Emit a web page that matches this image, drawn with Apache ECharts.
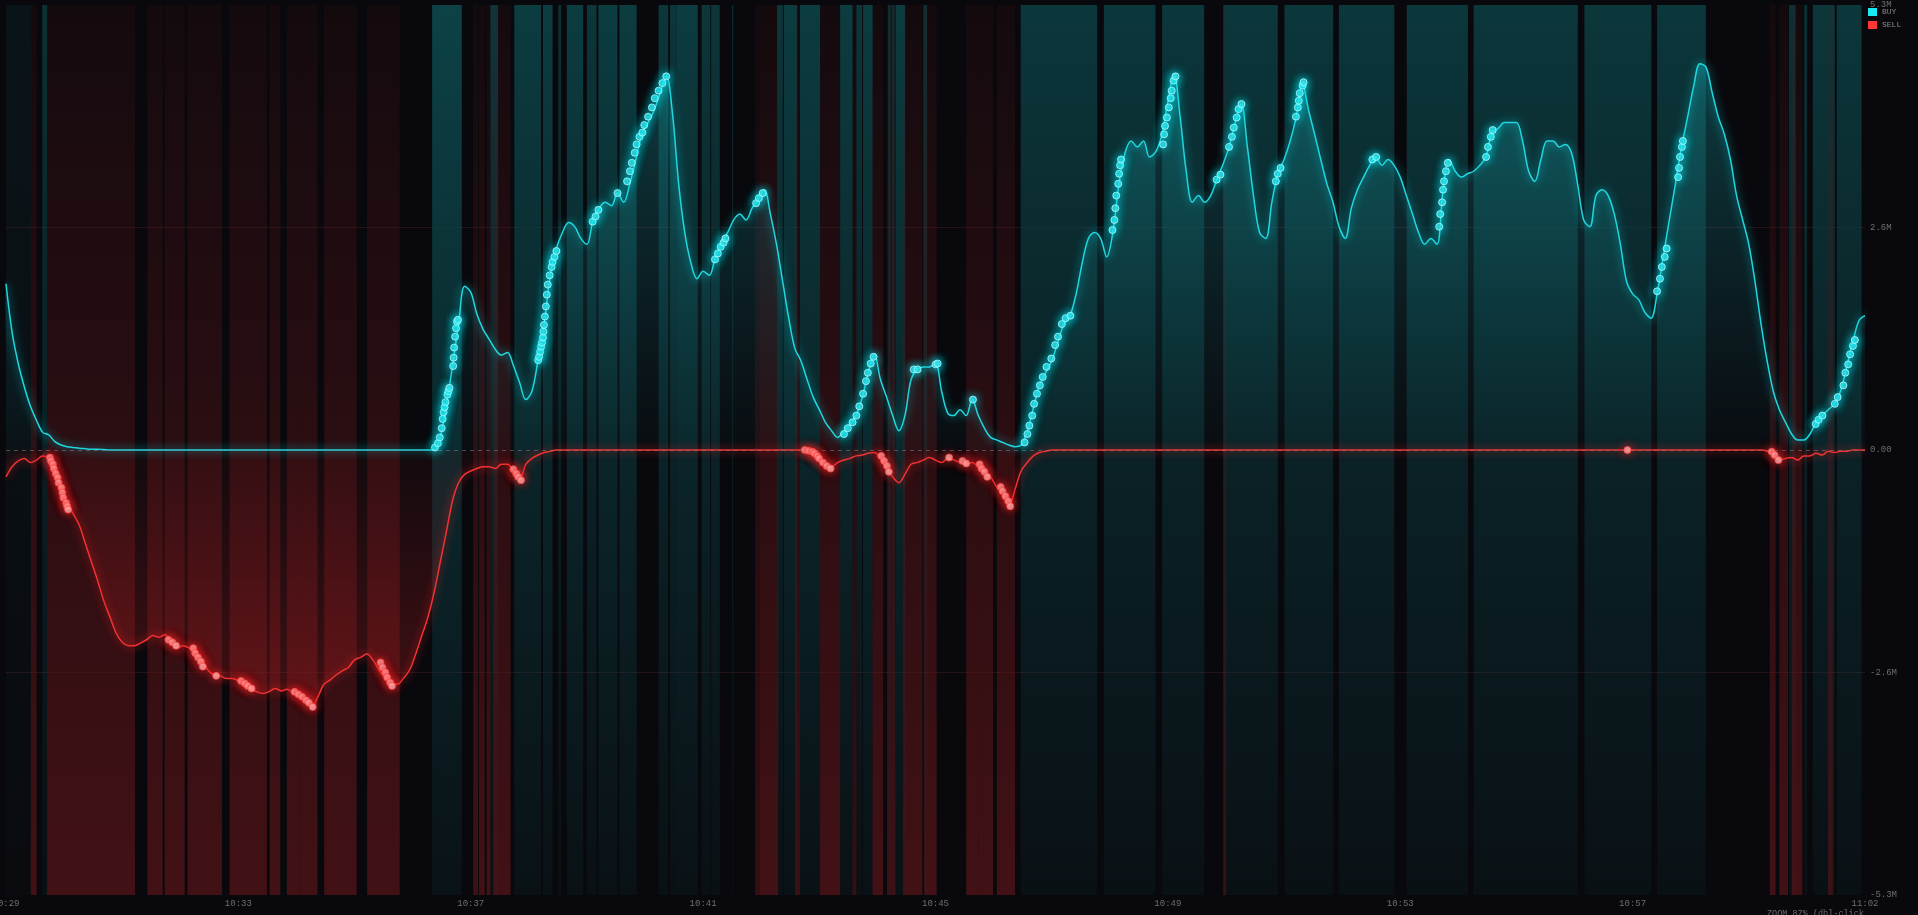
<!DOCTYPE html>
<html><head><meta charset="utf-8">
<script src="https://cdn.jsdelivr.net/npm/echarts@6/dist/echarts.min.js"></script>
<style>html,body{margin:0;padding:0;background:#09090d;overflow:hidden}#c{width:1918px;height:915px}</style>
</head><body><div id="c"></div>
<script>
// ---- data (values in millions) ----
const SAMPLE_SEC = 6.4;            // seconds between samples, from 10:29:30
const xTickLabels = ['10:29','10:33','10:37','10:41','10:45','10:49','10:53','10:57','11:02'];
const yTickMax = 5.3;

const buyFlow = [
1.98,1.40,1.03,0.75,0.52,0.35,0.21,0.18,0.10,0.06,
0.04,0.03,0.02,0.015,0.01,0.01,0.005,0,0,0,
0,0,0,0,0,0,0,0,0,0,
0,0,0,0,0,0,0,0,0,0,
0,0,0,0,0,0,0,0,0,0,
0,0,0,0,0,0,0,0,0,0,
0,0,0,0,0,0,0,0,0,0,
0,0.15,0.52,1.0,1.5,1.95,1.88,1.62,1.44,1.32,
1.20,1.13,1.16,1.00,0.80,0.60,0.70,1.07,1.49,2.08,
2.40,2.59,2.71,2.66,2.52,2.45,2.74,2.88,2.95,2.91,
3.06,2.95,3.17,3.46,3.76,3.90,4.05,4.26,4.45,4.0,
3.17,2.59,2.23,2.04,2.13,2.08,2.30,2.48,2.59,2.74,
2.81,2.74,2.88,3.00,3.10,2.81,2.45,2.01,1.57,1.21,
1.06,0.84,0.63,0.48,0.33,0.23,0.15,0.22,0.31,0.41,
0.62,0.92,1.14,0.84,0.63,0.41,0.23,0.41,0.84,0.96,
0.99,0.99,1.03,0.70,0.44,0.41,0.48,0.41,0.60,0.41,
0.26,0.15,0.12,0.09,0.06,0.04,0.06,0.22,0.50,0.77,
0.92,1.06,1.28,1.50,1.60,1.86,2.23,2.52,2.59,2.52,
2.30,2.59,3.17,3.54,3.68,3.61,3.68,3.49,3.55,3.75,
4.15,4.48,3.97,3.32,2.95,3.03,2.95,3.03,3.22,3.40,
3.61,3.90,4.12,3.61,3.03,2.59,2.52,2.95,3.29,3.46,
3.68,3.97,4.37,4.05,3.76,3.46,3.17,2.95,2.66,2.52,
2.88,3.10,3.25,3.39,3.49,3.39,3.46,3.39,3.25,3.03,
2.81,2.59,2.45,2.52,2.45,3.10,3.46,3.32,3.25,3.29,
3.32,3.39,3.49,3.78,3.83,3.90,3.90,3.90,3.68,3.32,
3.20,3.46,3.68,3.68,3.61,3.64,3.54,3.17,2.74,2.66,
3.03,3.10,3.03,2.81,2.45,2.01,1.86,1.79,1.64,1.57,
1.86,2.30,2.74,3.17,3.61,3.97,4.34,4.60,4.56,4.26,
3.97,3.76,3.46,3.03,2.74,2.45,2.01,1.50,1.06,0.70,
0.48,0.33,0.19,0.12,0.12,0.19,0.33,0.41,0.48,0.55,
0.70,0.99,1.28,1.54,1.60
];

const sellFlow = [
-0.32,-0.20,-0.13,-0.10,-0.15,-0.12,-0.07,-0.10,-0.25,-0.44,
-0.64,-0.76,-0.90,-1.12,-1.34,-1.56,-1.80,-1.99,-2.18,-2.29,
-2.33,-2.33,-2.30,-2.26,-2.21,-2.23,-2.20,-2.29,-2.36,-2.33,
-2.36,-2.40,-2.50,-2.62,-2.68,-2.69,-2.72,-2.72,-2.75,-2.79,
-2.84,-2.88,-2.90,-2.88,-2.84,-2.87,-2.85,-2.90,-2.94,-2.98,
-3.06,-2.94,-2.79,-2.74,-2.68,-2.63,-2.59,-2.50,-2.47,-2.43,
-2.50,-2.62,-2.72,-2.79,-2.79,-2.72,-2.62,-2.43,-2.21,-1.99,
-1.70,-1.34,-0.98,-0.61,-0.39,-0.29,-0.25,-0.22,-0.20,-0.20,
-0.22,-0.17,-0.17,-0.25,-0.35,-0.17,-0.10,-0.06,-0.03,-0.015,
0,0,0,0,0,0,0,0,0,0,
0,0,0,0,0,0,0,0,0,0,
0,0,0,0,0,0,0,0,0,0,
0,0,0,0,0,0,0,0,0,0,
0,-0.015,-0.06,-0.12,-0.19,-0.20,-0.15,-0.12,-0.10,-0.07,
-0.06,-0.04,-0.03,-0.10,-0.22,-0.32,-0.39,-0.29,-0.17,-0.15,
-0.12,-0.09,-0.12,-0.15,-0.10,-0.12,-0.15,-0.17,-0.15,-0.20,
-0.25,-0.32,-0.44,-0.54,-0.67,-0.47,-0.25,-0.15,-0.07,-0.03,
-0.015,0,0,0,0,0,0,0,0,0,
0,0,0,0,0,0,0,0,0,0,
0,0,0,0,0,0,0,0,0,0,
0,0,0,0,0,0,0,0,0,0,
0,0,0,0,0,0,0,0,0,0,
0,0,0,0,0,0,0,0,0,0,
0,0,0,0,0,0,0,0,0,0,
0,0,0,0,0,0,0,0,0,0,
0,0,0,0,0,0,0,0,0,0,
0,0,0,0,0,0,0,0,0,0,
0,0,0,0,0,0,0,0,0,0,
0,0,0,0,0,0,0,0,-0.015,-0.06,
-0.12,-0.10,-0.09,-0.12,-0.07,-0.07,-0.04,-0.06,-0.015,-0.03,
-0.015,-0.015,0,0,0
];

// trade markers [seconds, value]
const buyTrades = [
[449,0.03],[452,0.08],[454,0.15],[456,0.26],[457,0.37],[458,0.45],[459,0.51],[460,0.57],[462,0.66],[463,0.70],[464,0.74],
[468,1.0],[468.5,1.10],[469,1.22],[470,1.35],[471,1.45],[472,1.53],[473,1.55],
[557,1.07],[558,1.11],[559,1.17],[560,1.23],[561,1.28],[562,1.34],[562.5,1.41],[563,1.49],[564,1.59],[565,1.71],[566,1.85],[567,1.97],[569,2.08],[571,2.18],[572,2.24],[574,2.30],[576,2.37],
[614,2.72],[617,2.78],[620,2.86],[640,3.06],
[650,3.20],[653,3.32],[655,3.42],[658,3.54],[660,3.64],[663,3.73],[666,3.78],[668,3.87],[672,3.97],[676,4.08],[679,4.19],[683,4.28],[687,4.37],[691,4.45],
[742,2.27],[745,2.34],[748,2.42],[751,2.47],[753,2.52],
[785,2.94],[788,3.0],[792,3.06],
[877,0.19],[881,0.26],[886,0.33],[890,0.41],[893,0.52],[897,0.67],[900,0.82],[902,0.92],[905,1.03],[908,1.11],
[950,0.96],[954,0.96],[973,1.02],[975,1.03],[1012,0.60],
[1066,0.09],[1069,0.19],[1071,0.29],[1074,0.41],[1076,0.55],[1079,0.67],[1082,0.77],[1085,0.87],[1089,0.99],[1094,1.09],[1098,1.25],[1101,1.35],[1105,1.50],[1109,1.57],[1114,1.60],
[1158,2.62],[1160,2.74],[1161,2.88],[1162,3.03],[1164,3.17],[1165,3.29],[1166,3.39],[1167,3.46],
[1211,3.64],[1212,3.76],[1213,3.86],[1215,3.96],[1217,4.08],[1219,4.19],[1220,4.28],[1222,4.40],[1224,4.45],
[1267,3.22],[1271,3.28],
[1280,3.61],[1283,3.73],[1285,3.84],[1288,3.96],[1290,4.06],[1293,4.12],
[1329,3.20],[1331,3.29],[1334,3.36],
[1350,3.97],[1352,4.08],[1353,4.16],[1354,4.25],[1357,4.34],[1358,4.38],
[1430,3.46],[1434,3.49],
[1500,2.66],[1501,2.81],[1503,2.95],[1504,3.10],[1505,3.20],[1507,3.32],[1509,3.42],
[1549,3.49],[1551,3.61],[1554,3.73],[1556,3.81],
[1728,1.89],[1731,2.04],[1733,2.18],[1736,2.30],[1738,2.40],[1750,3.25],[1751,3.36],[1752,3.49],[1754,3.61],[1755,3.68],
[1894,0.31],[1897,0.36],[1901,0.41],[1914,0.55],[1917,0.63],[1923,0.77],[1925,0.92],[1928,1.02],[1930,1.14],[1933,1.24],[1935,1.31]
];
const sellTrades = [
[46,-0.09],[47,-0.13],[49,-0.17],[50,-0.22],[52,-0.28],[54,-0.33],[55,-0.39],[58,-0.45],[59,-0.51],[60,-0.57],[63,-0.63],[64,-0.67],[65,-0.71],
[170,-2.26],[174,-2.29],[178,-2.33],
[196,-2.36],[198,-2.42],[201,-2.47],[204,-2.52],[206,-2.58],
[220,-2.69],
[246,-2.75],[250,-2.78],[253,-2.81],[257,-2.84],
[302,-2.88],[306,-2.91],[310,-2.94],[314,-2.98],[317,-3.01],[321,-3.06],
[392,-2.53],[394,-2.59],[397,-2.65],[399,-2.71],[402,-2.77],[404,-2.81],
[531,-0.23],[534,-0.28],[536,-0.32],[539,-0.36],
[836,0],[840,-0.01],[844,-0.02],[846,-0.04],[849,-0.07],[851,-0.10],[855,-0.15],[859,-0.19],[863,-0.22],
[916,-0.07],[919,-0.13],[922,-0.19],[924,-0.26],
[987,-0.09],[1001,-0.13],[1005,-0.16],
[1019,-0.17],[1021,-0.22],[1024,-0.26],[1027,-0.32],
[1041,-0.44],[1043,-0.49],[1046,-0.55],[1049,-0.61],[1051,-0.67],
[1697,0],
[1848,-0.02],[1851,-0.06],[1855,-0.12]
];

// background activity bands [startSec, endSec, intensity]
const buyBands = [
[0,26,0.2],[38,43,0.7],[446,477,1.0],[507,515,0.8],[532,560,0.9],[562,572,0.9],[578,581,0.7],
[587,604,0.9],[608,618,0.8],[620,640,0.9],[642,660,0.9],[683,693,0.8],[695,702,0.8],[702,724,0.9],
[728,737,0.8],[738,747,0.8],[760,761,0.7],[807,813,0.8],[814,828,0.9],[831,852,0.9],[873,886,0.9],
[890,896,0.8],[897,907,0.9],[923,926,0.7],[927,930,0.7],[931,941,0.9],[960,964,0.7],
[1062,1142,0.8],[1149,1203,0.8],[1210,1254,0.8],[1274,1331,0.8],[1338,1389,0.8],[1395,1453,0.8],
[1466,1530,0.8],[1536,1645,0.8],[1652,1722,0.8],[1728,1779,0.8],[1866,1873,0.7],[1882,1885,0.7],
[1891,1914,0.8],[1916,1942,0.8]
];
const sellBands = [
[26,32,0.8],[43,135,0.8],[148,164,0.8],[166,187,0.8],[190,226,0.8],[234,273,0.8],[276,287,0.8],
[294,308,0.8],[308,326,0.8],[333,367,0.8],[378,412,0.8],
[489,494,0.8],[495,501,0.8],[503,507,0.8],[510,528,0.8],
[784,789,0.6],[789,808,0.8],[826,831,0.7],[852,873,0.8],[886,890,0.6],[907,918,0.8],[922,931,0.7],
[939,959,0.8],[961,974,0.8],[1005,1018,0.8],[1018,1033,0.8],[1037,1056,0.8],[1274,1277,0.6],
[1846,1852,0.8],[1856,1865,0.8],[1869,1880,0.8],[1907,1912,0.7]
];

// ---- chart ----
const X_MAX = (buyFlow.length - 1) * SAMPLE_SEC;
const X_INT = X_MAX / (xTickLabels.length - 1);
const MONO = '"Liberation Mono","DejaVu Sans Mono",monospace';
const chart = echarts.init(document.getElementById('c'), null, {renderer:'canvas'});

function bandSeries(data, buy) {
  return {
    type: 'custom', silent: true, clip: true, z: 1,
    encode: {x: [0, 1]},
    data: data,
    renderItem: function (params, api) {
      const a = api.value(2);
      const p0 = api.coord([api.value(0), yTickMax]);
      const p1 = api.coord([api.value(1), -yTickMax]);
      const fill = buy
        ? new echarts.graphic.LinearGradient(0, 0, 0, 1, [
            {offset: 0, color: 'rgba(12,66,70,' + a + ')'},
            {offset: 1, color: 'rgba(12,56,62,' + (a * 0.2) + ')'}])
        : new echarts.graphic.LinearGradient(0, 0, 0, 1, [
            {offset: 0, color: 'rgba(88,20,24,' + (a * 0.17) + ')'},
            {offset: 1, color: 'rgba(88,20,24,' + (a * 0.9) + ')'}]);
      return {type: 'rect', shape: {x: p0[0], y: p0[1], width: Math.max(1, p1[0] - p0[0]), height: p1[1] - p0[1]}, style: {fill: fill}};
    }
  };
}

chart.setOption({
  backgroundColor: '#09090d',
  animation: false,
  grid: {left: 6, right: 53, top: 5, bottom: 20, containLabel: false, outerBoundsMode: 'none'},
  legend: {
    orient: 'vertical', left: 1868, top: 8, padding: 0, itemWidth: 9, itemHeight: 8, itemGap: 5,
    textStyle: {color: '#8a8a8a', fontSize: 8, fontFamily: MONO},
    data: [{name: 'BUY', icon: 'rect', itemStyle: {color: '#19e8f2'}},
           {name: 'SELL', icon: 'rect', itemStyle: {color: '#ff3636'}}]
  },
  xAxis: {
    type: 'value', min: 0, max: X_MAX, interval: X_INT,
    axisLine: {show: false}, axisTick: {show: false}, splitLine: {show: false},
    axisLabel: {color: '#6e6e6e', fontSize: 9, fontFamily: MONO, margin: 4,
      showMinLabel: true, showMaxLabel: true,
      formatter: v => xTickLabels[Math.round(v / X_INT)] || ''}
  },
  yAxis: {
    type: 'value', position: 'right', min: -yTickMax, max: yTickMax, interval: yTickMax / 2,
    axisLine: {show: false}, axisTick: {show: false},
    splitLine: {show: true, lineStyle: {width: 1, color: ['rgba(0,0,0,0)','rgba(90,45,50,0.35)','rgba(0,0,0,0)','rgba(90,45,50,0.35)','rgba(0,0,0,0)']}},
    axisLabel: {color: '#6e6e6e', fontSize: 9, fontFamily: MONO, margin: 5,
      formatter: v => Math.abs(v) < 1e-9 ? '0.00' : v.toFixed(1) + 'M'}
  },
  graphic: [{type: 'text', left: 1767, top: 909, silent: true,
    style: {text: 'ZOOM 87% (dbl-click', fill: '#6a6a6a', font: '8.5px ' + MONO}}],
  series: [
    bandSeries(buyBands, true),
    bandSeries(sellBands, false),
    {
      name: 'SELL', type: 'line', z: 3, smooth: 0.35, symbol: 'none',
      data: sellFlow.map((v, i) => [i * SAMPLE_SEC, v]),
      lineStyle: {color: '#f03232', width: 1.5, shadowBlur: 8, shadowColor: 'rgba(255,40,40,0.9)'},
      areaStyle: {color: new echarts.graphic.LinearGradient(0, 0, 0, 1, [
        {offset: 0, color: 'rgba(190,30,34,0.08)'}, {offset: 1, color: 'rgba(200,32,36,0.42)'}])}
    },
    {
      name: 'BUY', type: 'line', z: 4, smooth: 0.35, symbol: 'none',
      data: buyFlow.map((v, i) => [i * SAMPLE_SEC, v]),
      lineStyle: {color: '#22d6de', width: 1.5, shadowBlur: 8, shadowColor: 'rgba(0,235,245,0.9)'},
      areaStyle: {color: new echarts.graphic.LinearGradient(0, 0, 0, 1, [
        {offset: 0, color: 'rgba(24,190,198,0.40)'}, {offset: 1, color: 'rgba(24,150,160,0.04)'}])},
      markLine: {silent: true, symbol: 'none', label: {show: false},
        lineStyle: {color: 'rgba(130,130,130,0.55)', type: [4, 4], width: 1},
        data: [{yAxis: 0}]}
    },
    {
      name: 'SELL', type: 'scatter', z: 5, symbolSize: 7, data: sellTrades,
      itemStyle: {color: '#ffb4b4', borderColor: '#ff4a4a', borderWidth: 1, shadowBlur: 10, shadowColor: 'rgba(255,40,40,1)'}
    },
    {
      name: 'BUY', type: 'scatter', z: 6, symbolSize: 7, data: buyTrades,
      itemStyle: {color: '#2fe4ec', borderColor: '#b9fbff', borderWidth: 1, shadowBlur: 10, shadowColor: 'rgba(0,240,255,1)'}
    }
  ]
});
</script></body></html>
